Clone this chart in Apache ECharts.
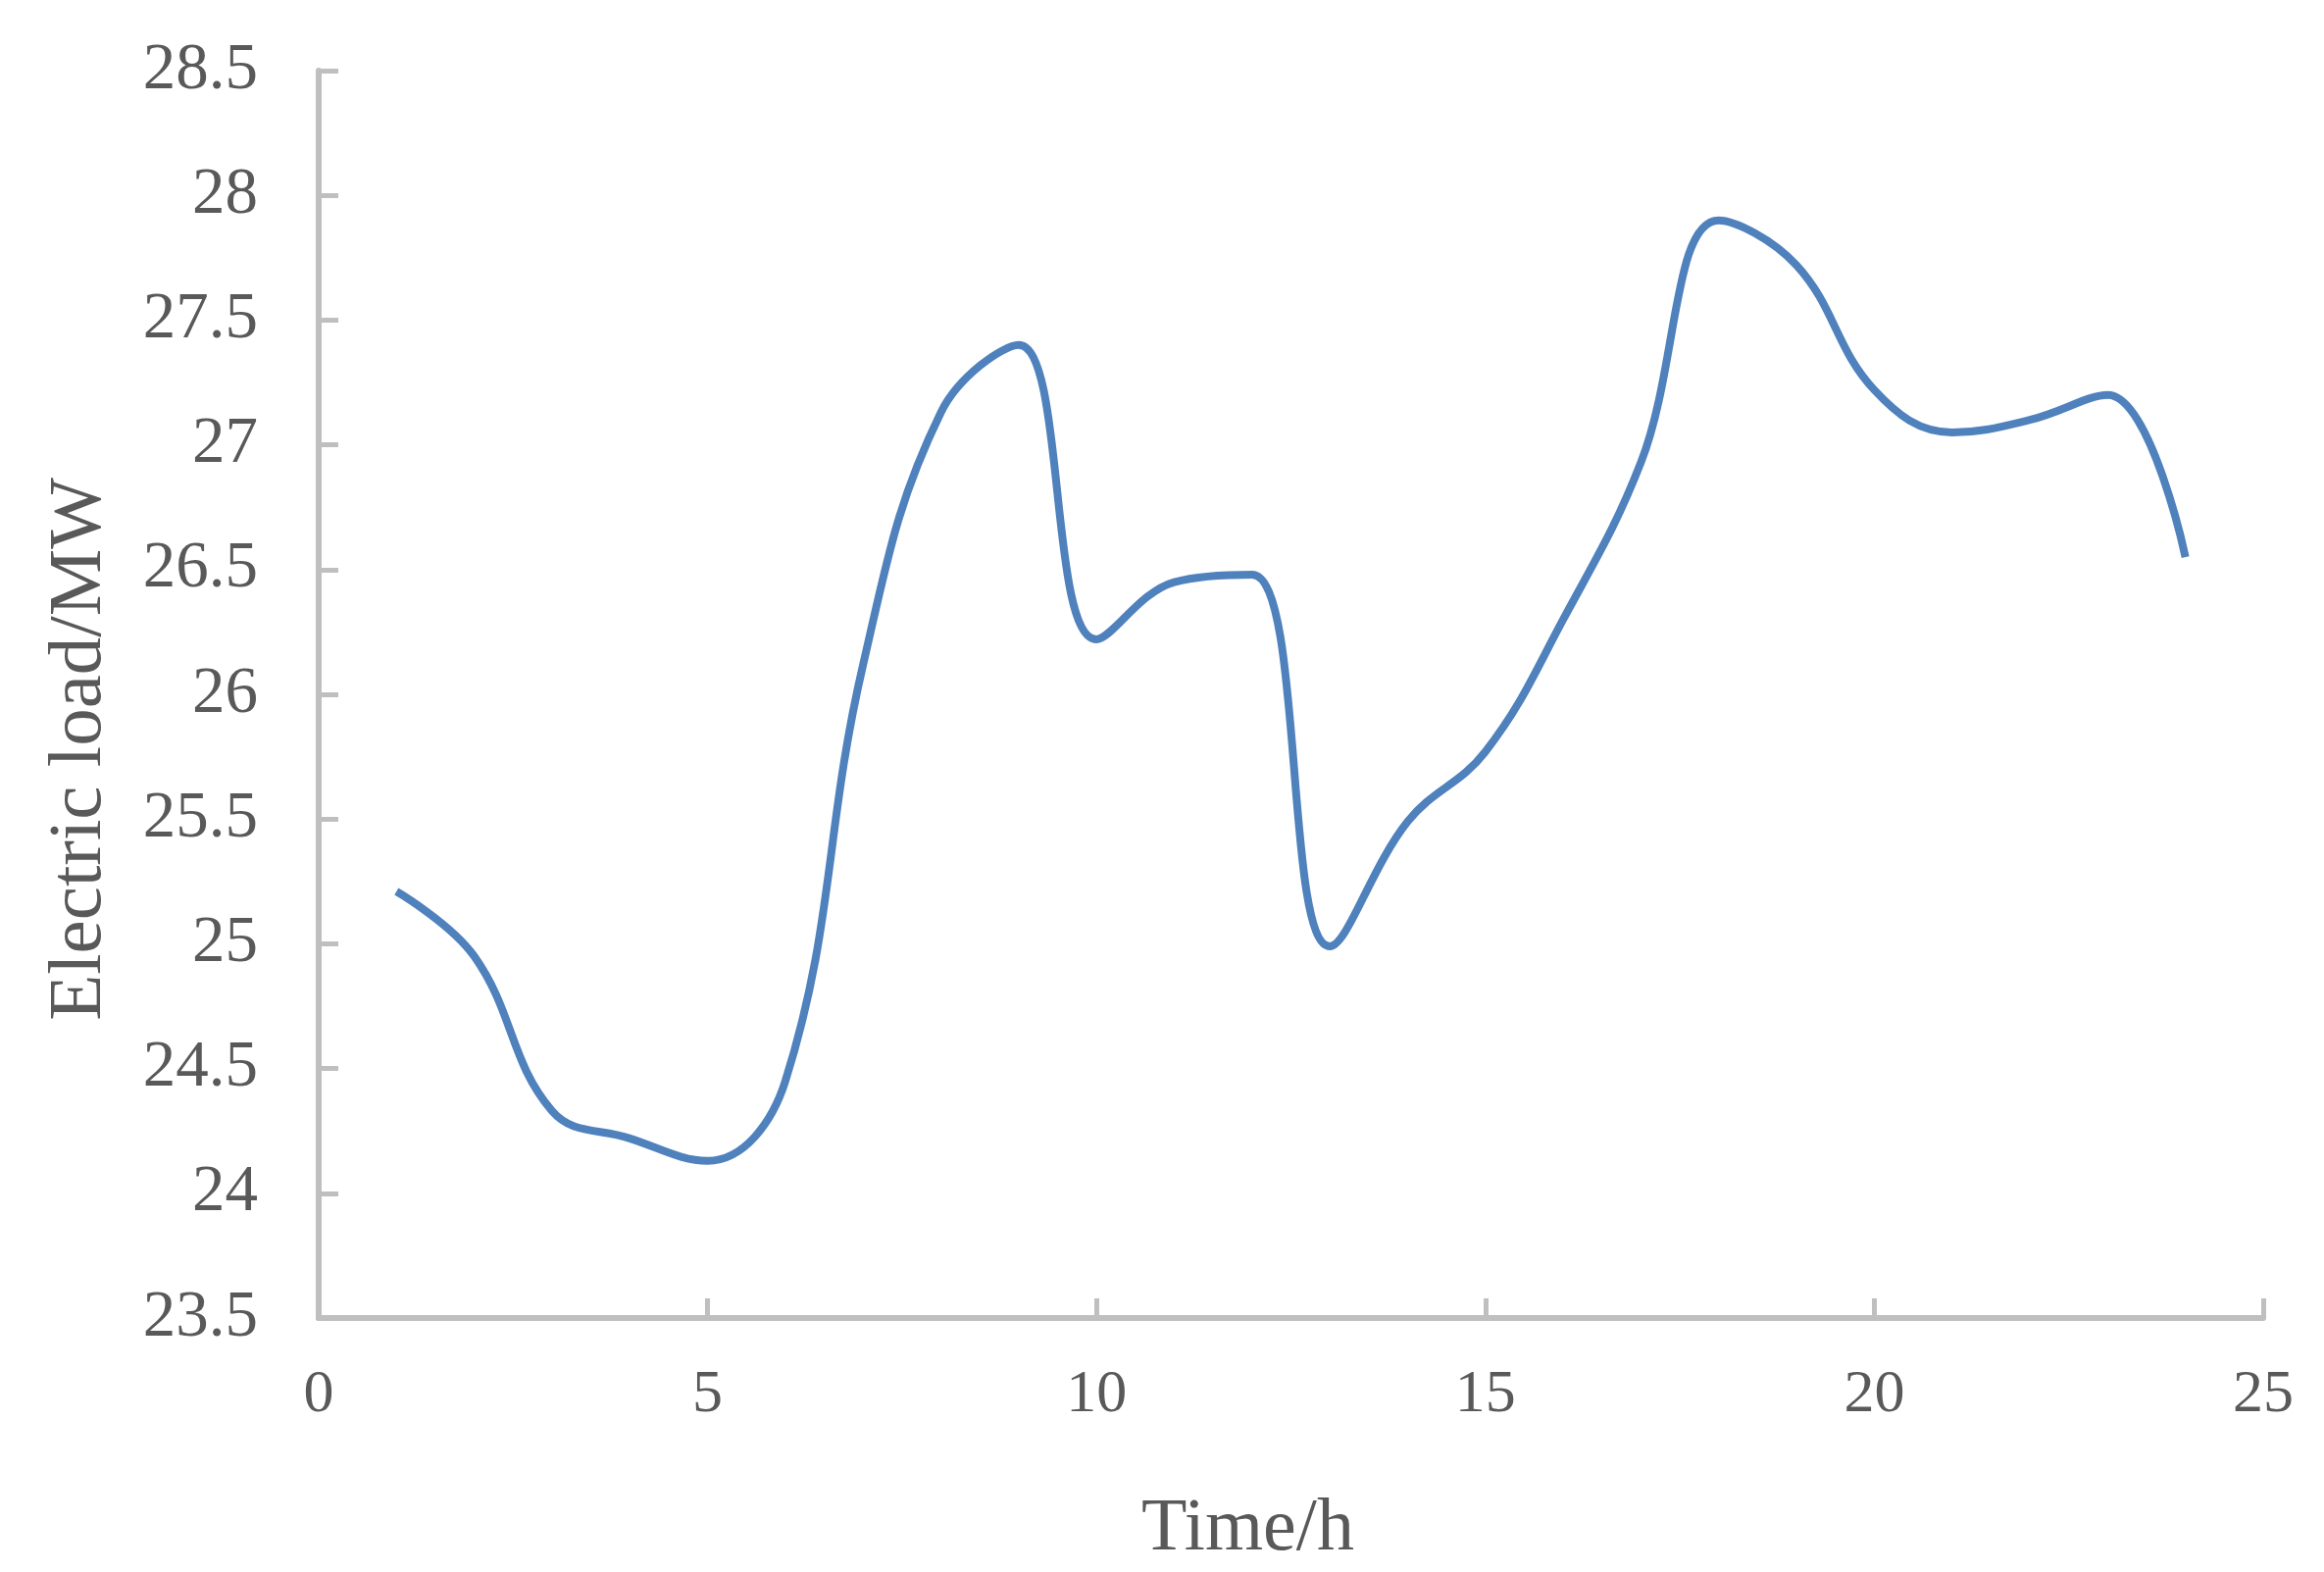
<!DOCTYPE html>
<html>
<head>
<meta charset="utf-8">
<script src="https://cdn.jsdelivr.net/npm/echarts@6/dist/echarts.min.js"></script>
<style>
html,body{margin:0;padding:0;background:#fff;}
#chart{width:2370px;height:1603px;}
</style>
</head>
<body>
<div id="chart"></div>
<script>
const hours = [1,2,3,4,5,6,7,8,9,10,11,12,13,14,15,16,17,18,19,20,21,22,23,24];
const loadMW = [25.21,24.95,24.33,24.22,24.13,24.45,26.12,27.13,27.4,26.22,26.45,26.48,24.99,25.49,25.77,26.3,26.93,27.9,27.72,27.22,27.05,27.1,27.2,26.55];
const xAxisName = 'Time/h';
const yAxisName = 'Electric load/MW';

const seriesData = hours.map((h, i) => [h, loadMW[i]]);
const textColor = '#595959';
const axisColor = '#bfbfbf';
const font = '"Liberation Serif", "Times New Roman", serif';

const chart = echarts.init(document.getElementById('chart'));
chart.setOption({
  backgroundColor: '#ffffff',
  animation: false,
  grid: { left: 325, right: 62, top: 72, bottom: 257, containLabel: false },
  xAxis: {
    type: 'value', min: 0, max: 25, interval: 5,
    name: xAxisName, nameLocation: 'middle', nameGap: 178,
    nameTextStyle: { color: textColor, fontFamily: font, fontSize: 76, padding: [0, 88, 0, 0] },
    axisLine: { show: true, lineStyle: { color: axisColor, width: 6 } },
    axisTick: { show: true, inside: true, length: 20, lineStyle: { color: axisColor, width: 5 } },
    axisLabel: { color: textColor, fontFamily: font, fontSize: 62, margin: 48 },
    splitLine: { show: false }
  },
  yAxis: {
    type: 'value', min: 23.5, max: 28.5, interval: 0.5,
    name: yAxisName, nameLocation: 'middle', nameGap: 205, nameRotate: 90,
    nameTextStyle: { color: textColor, fontFamily: font, fontSize: 77, padding: [0, 112, 0, 0] },
    axisLine: { show: true, lineStyle: { color: axisColor, width: 6 } },
    axisTick: { show: true, inside: true, length: 20, lineStyle: { color: axisColor, width: 5 } },
    axisLabel: { color: textColor, fontFamily: font, fontSize: 67, margin: 62 },
    splitLine: { show: false }
  },
  series: [{
    type: 'line',
    data: seriesData,
    smooth: 0.4,
    showSymbol: false,
    lineStyle: { color: '#4f81bd', width: 8 },
    itemStyle: { color: '#4f81bd' }
  }]
});
</script>
</body>
</html>
